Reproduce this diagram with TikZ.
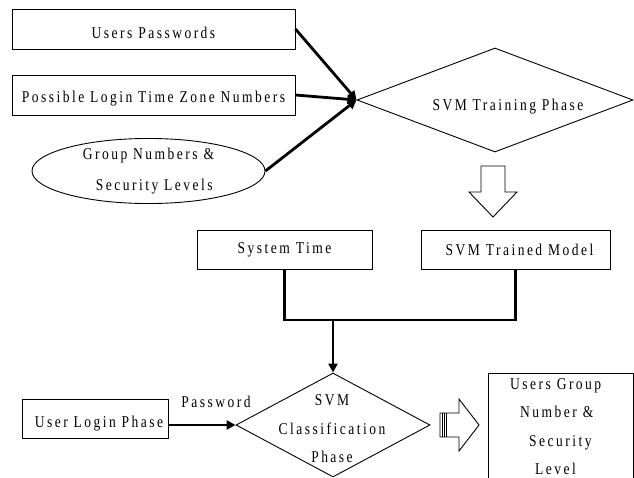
\documentclass[tikz,border=0pt]{standalone}
\usepackage{fontspec}
\setmainfont{Liberation Serif}[FakeStretch=0.82, LetterSpace=15]
\usetikzlibrary{arrows.meta,shapes.geometric}
\begin{document}
\begin{tikzpicture}[x=1pt,y=-1pt,
  thinline/.style={line width=0.9pt},
  txt/.style={font=\fontsize{16.5}{19}\selectfont, inner sep=0pt},
  box/.style={draw, thinline, rectangle, inner sep=0pt, txt},
  lowered/.style={text height=#1, text depth=0pt},
  dia/.style={draw, thinline, diamond, inner sep=0pt},
  conn/.style={line width=2.8pt},
  arr/.style={conn, -{Triangle[length=9pt,width=9pt]}},
  hollow/.style={draw, thinline, fill=white}
]
\clip (0,0) rectangle (634,477);
\fill[white] (0,0) rectangle (634,477);

% inputs
\node[box, lowered=19pt, minimum width=283pt, minimum height=40pt] (up) at (153.5,29) {Users Passwords};
\node[box, lowered=14pt, minimum width=283pt, minimum height=40pt] (pl) at (153.5,95) {Possible Login Time Zone Numbers};
\node[draw, thinline, ellipse, minimum width=233pt, minimum height=64pt, inner sep=0pt,
      align=left, font=\fontsize{16.5}{31}\selectfont] (gn) at (148.5,171)
      {Group Numbers \&\\\hspace*{13pt}Security Levels};

% training phase
\node[dia, minimum width=276pt, minimum height=104pt] (tr) at (495,100) {};
\node[txt] (trt) at (508,107) {SVM Training Phase};

\draw[arr] (up.east) -- (tr.west);
\draw[arr] (pl.east) -- (tr.west);
\draw[arr] (gn.east) -- (tr.west);

% hollow down arrow
\draw[hollow] (481,166) -- (505,166) -- (505,192) -- (517,192) -- (493,217)
  -- (469,192) -- (481,192) -- cycle;

% system time / trained model
\node[box, minimum width=175pt, minimum height=39pt] (st) at (284.5,249.5) {System Time};
\node[box, minimum width=189pt, minimum height=39pt] (tm) at (515.5,249.5) {\hspace*{8pt}SVM Trained Model};

% classification phase
\node[dia, minimum width=194pt, minimum height=104pt] (cl) at (333,425) {};
\node[txt, align=center, font=\fontsize{16.5}{28.5}\selectfont] (clt) at (332,429)
  {SVM\\Classification\\Phase};

\coordinate (j) at (333,320);
\draw[conn] (st.south) |- (tm.south |- j) -- (tm.south);
\draw[arr] (j) -- (cl.north);

% user login
\node[box, lowered=17pt, minimum width=146pt, minimum height=39pt] (ul) at (95,418.5) {\hspace*{8pt}User Login Phase};
\draw[arr] (ul.east |- cl.west) -- (cl.west);
\node[txt] (pw) at (216,402) {Password};

% hollow right arrow
\draw[hollow] (440,413) -- (459,413) -- (459,399) -- (479,425) -- (459,451)
  -- (459,437) -- (440,437) -- cycle;
\draw[thinline] (442,413) -- (442,437) (444,413) -- (444,437) (446,413) -- (446,437);

% output
\node[box, minimum width=145pt, minimum height=127pt] (out) at (560.5,436.5) {};
\node[txt, align=left, font=\fontsize{16.5}{28.5}\selectfont, anchor=north west] (outt) at (510,378)
  {Users Group\\\hspace*{10pt}Number \&\\\hspace*{19pt}Security\\\hspace*{25pt}Level};
\end{tikzpicture}
\end{document}
